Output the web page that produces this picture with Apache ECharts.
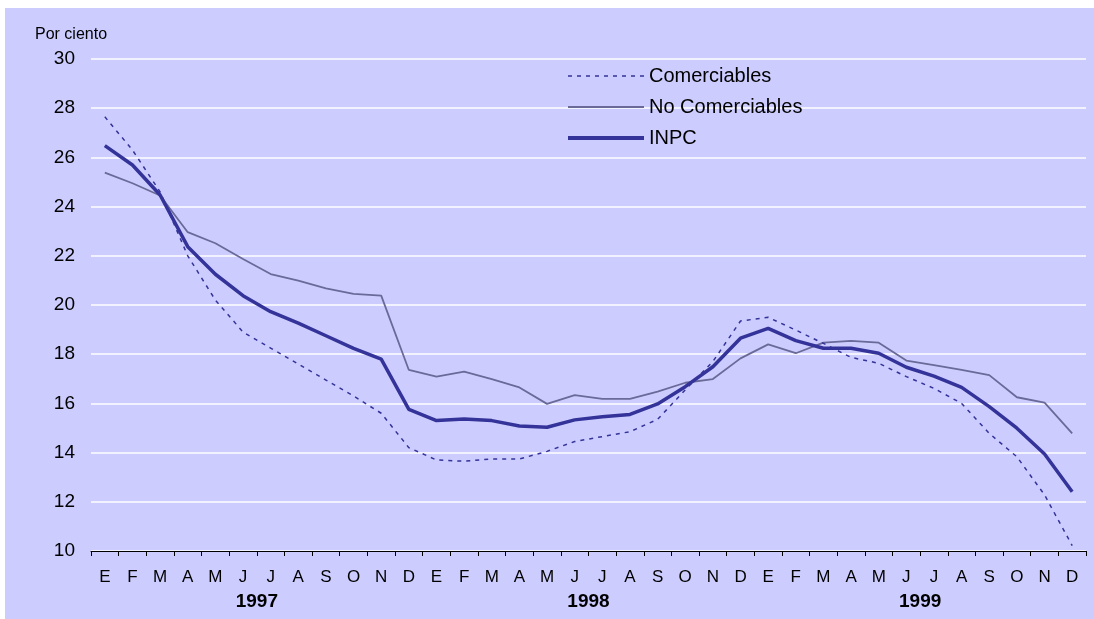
<!DOCTYPE html>
<html lang="es">
<head>
    <meta charset="UTF-8">
    <title>Inflación anual: Comerciables, No Comerciables e INPC</title>
</head>
<style>
    *{
        margin: 0;
    }
    html,body{
        height: 100%;
        background-color: #ffffff;
    }
    #grafica{
        position: absolute;
        left: 5px;
        top: 8px;
        width: 1089px;
        height: 611px;
        background-color: #ccccff;
    }
</style>
<script src="https://cdn.jsdelivr.net/npm/echarts@6/dist/echarts.min.js"></script>
<body>
<div id="grafica"></div>
<script>
    // meses E..D de 1997 a 1999
    const meses = ['E','F','M','A','M','J','J','A','S','O','N','D'];
    const categorias = [].concat(meses, meses, meses);
    const anios = ['1997', '1998', '1999'];

    const comerciables = [27.65, 26.3, 24.6, 22.0, 20.2, 18.9, 18.25, 17.6, 16.95, 16.3, 15.6, 14.2,
        13.7, 13.65, 13.74, 13.74, 14.05, 14.45, 14.65, 14.85, 15.35, 16.55, 17.7, 19.35,
        19.5, 18.98, 18.44, 17.87, 17.63, 17.09, 16.61, 16.0, 14.78, 13.83, 12.28, 10.22];
    const noComerciables = [25.38, 24.95, 24.45, 22.96, 22.51, 21.87, 21.26, 20.99, 20.68, 20.45, 20.38, 17.36,
        17.09, 17.29, 16.99, 16.65, 15.98, 16.34, 16.18, 16.18, 16.48, 16.84, 16.99, 17.83,
        18.4, 18.04, 18.47, 18.54, 18.47, 17.74, 17.56, 17.36, 17.15, 16.25, 16.03, 14.78];
    const inpc = [26.48, 25.69, 24.47, 22.37, 21.25, 20.38, 19.73, 19.26, 18.75, 18.24, 17.8, 15.76,
        15.3, 15.37, 15.3, 15.08, 15.03, 15.33, 15.46, 15.55, 15.98, 16.68, 17.49, 18.65,
        19.05, 18.55, 18.24, 18.24, 18.04, 17.47, 17.11, 16.65, 15.87, 14.99, 13.94, 12.41];

    const fuente = '"Liberation Sans", Arial, sans-serif';
    let chart = echarts.init(document.getElementById('grafica'));
    chart.setOption({
        animation: false,
        title: {
            text: 'Por ciento',
            left: 30,
            top: 19,
            padding: 0,
            textStyle: {fontSize: 16, fontWeight: 'normal', color: '#000', fontFamily: fuente}
        },
        legend: {
            orient: 'vertical',
            left: 556,
            top: 53,
            itemWidth: 76,
            itemHeight: 14,
            itemGap: 11,
            itemStyle: {opacity: 0},
            textStyle: {fontSize: 20, color: '#000', fontFamily: fuente},
            data: [
                {name: 'Comerciables', lineStyle: {width: 1.5, type: [4, 5]}},
                {name: 'No Comerciables', lineStyle: {width: 1.8}},
                {name: 'INPC', lineStyle: {width: 4}}
            ]
        },
        grid: {left: 86, right: 8, top: 51, bottom: 68},
        xAxis: [
            {
                type: 'category',
                data: categorias,
                axisLine: {lineStyle: {color: '#000', width: 1}},
                axisTick: {show: true, length: 5, lineStyle: {color: '#000', width: 1}},
                axisLabel: {interval: 0, margin: 18, fontSize: 17, color: '#000', fontFamily: fuente}
            },
            {
                type: 'category',
                data: anios,
                position: 'bottom',
                offset: 30,
                axisLine: {show: false},
                axisTick: {show: false},
                axisLabel: {margin: 11, fontSize: 19, fontWeight: 'bold', color: '#000', fontFamily: fuente}
            }
        ],
        yAxis: {
            type: 'value',
            min: 10,
            max: 30,
            interval: 2,
            axisLine: {show: false},
            axisTick: {show: false},
            axisLabel: {margin: 16, fontSize: 19, color: '#000', fontFamily: fuente},
            splitLine: {lineStyle: {color: '#ffffff', width: 1.5}}
        },
        series: [
            {
                name: 'Comerciables',
                type: 'line',
                data: comerciables,
                symbol: 'none',
                color: '#333399',
                lineStyle: {color: '#333399', width: 1.5, type: [4, 5]},
                z: 3
            },
            {
                name: 'No Comerciables',
                type: 'line',
                data: noComerciables,
                symbol: 'none',
                color: '#6a6a99',
                lineStyle: {color: '#6a6a99', width: 1.8},
                z: 2
            },
            {
                name: 'INPC',
                type: 'line',
                data: inpc,
                symbol: 'none',
                color: '#333399',
                lineStyle: {color: '#333399', width: 3.5},
                z: 4
            }
        ]
    });
</script>
</body>
</html>
